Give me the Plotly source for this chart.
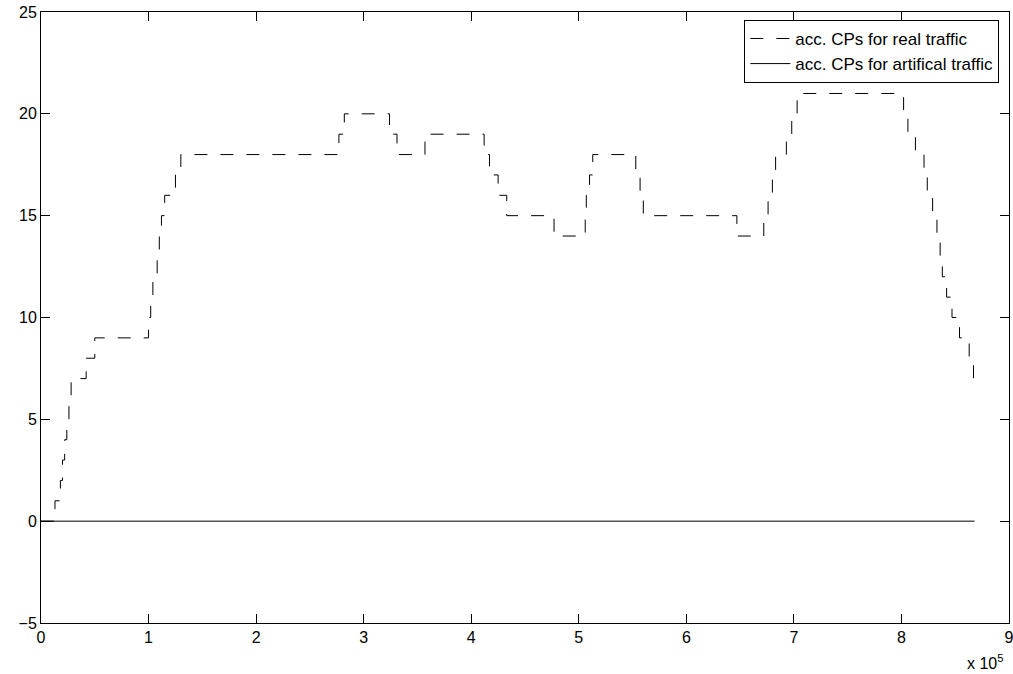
import plotly.graph_objects as go

# step positions (in units of samples) and accumulated CP counts for real traffic
real_x = [0, 13000, 18000, 20000, 22000, 24000, 26000, 28000, 42000, 50000,
          100000, 102000, 104000, 108000, 110000, 112000, 115000, 125000, 130000,
          277000, 282000, 324000, 331000, 357000, 412000, 417000, 425000, 433000,
          477000, 506000, 507000, 510000, 513000, 553000, 557000, 560000,
          647000, 672000, 676000, 680000, 683000, 693000, 698000, 703000,
          802000, 806000, 813000, 821000, 824000, 829000, 833000, 836000, 838000,
          842000, 847000, 854000, 863000, 867000]
real_y = [0, 1, 2, 3, 4, 5, 6, 7, 8, 9,
          10, 11, 12, 13, 14, 15, 16, 17, 18,
          19, 20, 19, 18, 19, 18, 17, 16, 15,
          14, 15, 16, 17, 18, 17, 16, 15,
          14, 15, 16, 17, 18, 19, 20, 21,
          20, 19, 18, 17, 16, 15, 14, 13, 12,
          11, 10, 9, 8, 7]

art_x = [0, 868000]
art_y = [0, 0]

x_tickvals = [0, 100000, 200000, 300000, 400000, 500000, 600000, 700000, 800000, 900000]
x_ticktext = ["0", "1", "2", "3", "4", "5", "6", "7", "8", "9"]
y_tickvals = [-5, 0, 5, 10, 15, 20, 25]
y_ticktext = ["\u22125", "0", "5", "10", "15", "20", "25"]

fig = go.Figure()
fig.add_trace(go.Scatter(
    x=real_x, y=real_y, mode="lines", line_shape="hv",
    line=dict(color="black", width=1, dash="13px,13px"),
    name="acc. CPs for real traffic"))
fig.add_trace(go.Scatter(
    x=art_x, y=art_y, mode="lines",
    line=dict(color="black", width=1),
    name="acc. CPs for artifical traffic"))

font = "Liberation Sans, Arial, Helvetica, sans-serif"
axis_common = dict(showgrid=False, zeroline=False, showline=True, linecolor="black",
                   linewidth=1, mirror="allticks", ticks="inside", ticklen=9,
                   tickcolor="black", tickwidth=1, tickfont=dict(size=16),
                   automargin=False, ticklabeloverflow="allow")
fig.update_layout(
    width=1013, height=674,
    margin=dict(l=41, r=4, t=12, b=51),
    paper_bgcolor="white", plot_bgcolor="white",
    font=dict(family=font, size=16, color="black"),
    showlegend=True,
    legend=dict(x=0.99, y=0.987, xanchor="right", yanchor="top",
                bgcolor="white", bordercolor="black", borderwidth=1,
                font=dict(size=17), tracegroupgap=0, itemwidth=40),
    xaxis=dict(range=[0, 900000], tickvals=x_tickvals, ticktext=x_ticktext,
               **axis_common),
    yaxis=dict(range=[-5, 25], tickvals=y_tickvals, ticktext=y_ticktext,
               **axis_common),
    annotations=[dict(text="x 10<sup>5</sup>", xref="paper", yref="paper",
                      x=0.955, y=-0.064, xanchor="left", yanchor="middle",
                      showarrow=False, font=dict(size=16))],
)

fig.write_html("out.html", config={"displayModeBar": False},
               post_script="document.body.style.margin='0';document.body.style.overflow='hidden';")
